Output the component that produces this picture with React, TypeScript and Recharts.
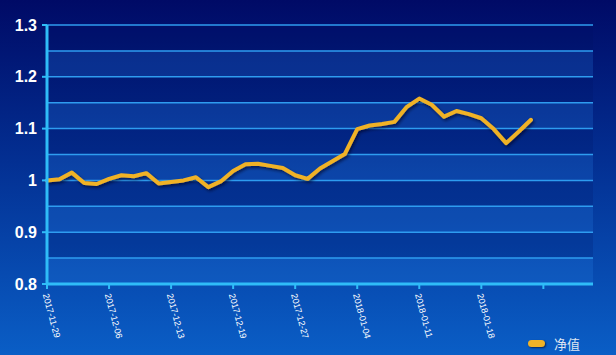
import { CartesianGrid, Line, LineChart, ReferenceArea, ReferenceLine, XAxis, YAxis } from 'recharts';

// trading dates (blank slots keep the axis running past the last point)
const dates = [
  '2017-11-29', '2017-11-30', '2017-12-01', '2017-12-04', '2017-12-05',
  '2017-12-06', '2017-12-07', '2017-12-08', '2017-12-11', '2017-12-12',
  '2017-12-13', '2017-12-14', '2017-12-15', '2017-12-17', '2017-12-18',
  '2017-12-19', '2017-12-21', '2017-12-22', '2017-12-25', '2017-12-26',
  '2017-12-27', '2017-12-28', '2017-12-29', '2018-01-02', '2018-01-03',
  '2018-01-04', '2018-01-05', '2018-01-08', '2018-01-09', '2018-01-10',
  '2018-01-11', '2018-01-12', '2018-01-15', '2018-01-16', '2018-01-17',
  '2018-01-18', '2018-01-19', '2018-01-22', '2018-01-23', '2018-01-24',
  '', ' ', '  ', '   ', '    ',
];

const netValues = [
  1.0, 1.002, 1.015, 0.995, 0.993, 1.003, 1.01, 1.008, 1.014, 0.994,
  0.997, 1.0, 1.006, 0.987, 0.998, 1.018, 1.031, 1.032, 1.028, 1.024,
  1.01, 1.003, 1.023, 1.037, 1.051, 1.099, 1.106, 1.109, 1.113, 1.142,
  1.158, 1.146, 1.123, 1.134, 1.128, 1.12, 1.099, 1.072, 1.094, 1.117,
];

const yTicks = [0.8, 0.9, 1, 1.1, 1.2, 1.3];
const gridValues = [0.85, 0.9, 0.95, 1, 1.05, 1.1, 1.15, 1.2, 1.25, 1.3];
const lightBands = [[0.8, 0.85], [0.9, 0.95], [1.0, 1.05], [1.1, 1.15], [1.2, 1.25]];
const darkBands = [[0.85, 0.9], [0.95, 1.0], [1.05, 1.1], [1.15, 1.2], [1.25, 1.3]];

const seriesName = '净值';

const data = dates.map((d, i) => ({ date: d, value: netValues[i] ?? null }));

const AXIS = '#2fbcf8';
const GRID = '#2e9cf0';

function DateTick(props: any) {
  const { x, y, payload } = props;
  const label = String(payload?.value ?? '').trim();
  if (!label) return null;
  return (
    <g transform={`translate(${x - 2},${y + 1})`}>
      <text
        transform="rotate(75)"
        textAnchor="start"
        dominantBaseline="middle"
        fill="#ffffff"
        fontSize={9}
        fontFamily="Liberation Sans, Arial, sans-serif"
      >
        {label}
      </text>
    </g>
  );
}

export default function App() {
  return (
    <div
      style={{
        position: 'absolute',
        left: 0,
        top: 0,
        width: 616,
        height: 355,
        background: 'linear-gradient(to bottom, #000a66 0%, #032f92 45%, #0a5ec6 100%)',
        overflow: 'hidden',
      }}
    >
      <LineChart
        width={616}
        height={355}
        data={data}
        margin={{ top: 25, right: 23, left: 0, bottom: 0 }}
      >
        <defs>
          <filter id="lineShadow" x="-10%" y="-10%" width="120%" height="140%">
            <feDropShadow dx="1.5" dy="2" stdDeviation="1.5" floodColor="#000020" floodOpacity="0.6" />
          </filter>
        </defs>
        {darkBands.map(([a, b]) => (
          <ReferenceArea key={`d${a}`} y1={a} y2={b} fill="#001060" fillOpacity={0.18} stroke="none" ifOverflow="visible" />
        ))}
        {lightBands.map(([a, b]) => (
          <ReferenceArea key={`l${a}`} y1={a} y2={b} fill="#2f8cf0" fillOpacity={0.2} stroke="none" ifOverflow="visible" />
        ))}
        <CartesianGrid horizontal={false} vertical={false} />
        {gridValues.map((v) => (
          <ReferenceLine key={`g${v}`} y={v} stroke={GRID} strokeWidth={1.5} ifOverflow="visible" />
        ))}
        <XAxis
          dataKey="date"
          interval={4}
          height={71}
          axisLine={{ stroke: AXIS, strokeWidth: 3 }}
          tickLine={{ stroke: AXIS, strokeWidth: 2 }}
          tickSize={5}
          tickMargin={4}
          tick={<DateTick />}
        />
        <YAxis
          domain={[0.8, 1.3]}
          ticks={yTicks}
          width={47}
          axisLine={{ stroke: AXIS, strokeWidth: 3 }}
          tickLine={{ stroke: AXIS, strokeWidth: 2 }}
          tickSize={5}
          tickMargin={5}
          tickFormatter={(v: number) => (v === 1 ? '1' : v.toFixed(1))}
          tick={{ fill: '#ffffff', fontSize: 16, fontWeight: 700, fontFamily: 'Liberation Sans, Arial, sans-serif' }}
        />
        <Line
          type="linear"
          dataKey="value"
          name={seriesName}
          stroke="#f0b228"
          strokeWidth={4}
          strokeLinejoin="round"
          strokeLinecap="round"
          dot={false}
          activeDot={false}
          filter="url(#lineShadow)"
          isAnimationActive={false}
        />
      </LineChart>
      {/* legend */}
      <div
        style={{
          position: 'absolute',
          left: 528,
          top: 334,
          display: 'flex',
          alignItems: 'center',
          gap: 9,
          fontFamily: '"Noto Sans CJK SC", sans-serif',
          fontSize: 13,
          color: '#dfe6f2',
        }}
      >
        <span
          style={{
            display: 'inline-block',
            width: 17,
            height: 7,
            borderRadius: 4,
            background: '#f0b228',
            boxShadow: '1px 1px 2px rgba(0,0,30,0.6)',
          }}
        />
        <span>{seriesName}</span>
      </div>
    </div>
  );
}
